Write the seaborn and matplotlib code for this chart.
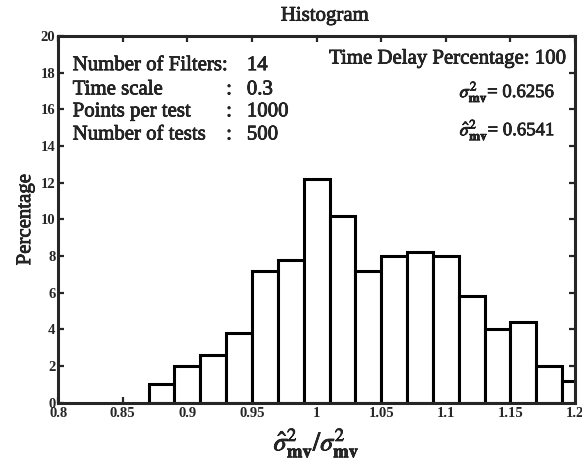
import numpy as np
import pandas as pd
import matplotlib
matplotlib.use("Agg")
import matplotlib.pyplot as plt
import matplotlib.patheffects as pe
import seaborn as sns

# Histogram of the variance ratio estimate (percentage of tests per bin)
bin_centers = [0.88, 0.90, 0.92, 0.94, 0.96, 0.98, 1.00, 1.02, 1.04,
               1.06, 1.08, 1.10, 1.12, 1.14, 1.16, 1.18, 1.20]
percentages = [1.0, 2.0, 2.6, 3.8, 7.2, 7.8, 12.2, 10.2, 7.2,
               8.0, 8.2, 8.0, 5.8, 4.0, 4.4, 2.0, 1.2]
bin_width = 0.02

x_ticks = [0.8, 0.85, 0.9, 0.95, 1.0, 1.05, 1.1, 1.15, 1.2]
x_tick_labels = ["0.8", "0.85", "0.9", "0.95", "1", "1.05", "1.1", "1.15", "1.2"]
y_ticks = [0, 2, 4, 6, 8, 10, 12, 14, 16, 18, 20]

info_labels = ["Number of Filters:", "Time scale", "Points per test", "Number of tests"]
info_seps = ["", ":", ":", ":"]
info_values = ["14", "0.3", "1000", "500"]
delay_pct = 100
sigma_mv = 0.6256
sigma_hat_mv = 0.6541

df = pd.DataFrame({"ratio": bin_centers, "pct": percentages})
edges = [c - bin_width / 2 for c in bin_centers] + [bin_centers[-1] + bin_width / 2]

sns.set_style("ticks")
plt.rcParams["font.family"] = ["Liberation Serif", "DejaVu Serif"]
plt.rcParams["mathtext.fontset"] = "stix"

# slightly heavier strokes for the serif text
heavy = [pe.withStroke(linewidth=0.5, foreground="black")]

fig = plt.figure(figsize=(5.82, 4.59), dpi=100)
ax = fig.add_axes([0.100, 0.1227, 0.888, 0.799])

sns.histplot(data=df, x="ratio", weights="pct", bins=edges, stat="count",
             color="white", edgecolor="black", linewidth=2.2, alpha=1.0, ax=ax)

ax.set_xlim(0.8, 1.2)
ax.set_ylim(0, 20)
ax.set_xticks(x_ticks)
ax.set_xticklabels(x_tick_labels)
ax.set_yticks(y_ticks)
ax.tick_params(direction="in", top=True, right=True, length=4, width=1.6,
               labelsize=10.5, pad=2)
ax.tick_params(axis="x", pad=3)
for lab in ax.get_xticklabels() + ax.get_yticklabels():
    lab.set_fontweight("bold")
for sp in ax.spines.values():
    sp.set_linewidth(2.2)
    sp.set_visible(True)

ax.set_title("Histogram", fontsize=15, pad=11, x=0.516, path_effects=heavy)
ax.set_ylabel("Percentage", fontsize=15, labelpad=4, path_effects=heavy)
ax.set_xlabel(r"$\hat{\sigma}^2_{\mathbf{mv}}/\sigma^2_{\mathbf{mv}}$", fontsize=19, labelpad=5,
              path_effects=heavy)

# Run settings, upper left
line_y = [0.919, 0.853, 0.793, 0.730]
for lbl, sep, val, yy in zip(info_labels, info_seps, info_values, line_y):
    ax.text(0.028, yy, lbl, transform=ax.transAxes, fontsize=15, va="center", ha="left",
            path_effects=heavy)
    if sep:
        ax.text(0.325, yy, sep, transform=ax.transAxes, fontsize=15, va="center", ha="left",
                path_effects=heavy)
    ax.text(0.365, yy, val, transform=ax.transAxes, fontsize=15, va="center", ha="left",
            path_effects=heavy)

# Delay setting and variance values, upper right
ax.text(0.985, 0.937, f"Time Delay Percentage: {delay_pct}", transform=ax.transAxes,
        fontsize=15, va="center", ha="right", path_effects=heavy)
ax.text(0.962, 0.848, r"$\sigma^2_{\mathbf{mv}}$" + f"= {sigma_mv:.4f}", transform=ax.transAxes,
        fontsize=13.5, va="center", ha="right", path_effects=heavy)
ax.text(0.962, 0.744, r"$\hat{\sigma}^2_{\mathbf{mv}}$" + f"= {sigma_hat_mv:.4f}", transform=ax.transAxes,
        fontsize=13.5, va="center", ha="right", path_effects=heavy)

fig.savefig("out.png", dpi=100)
